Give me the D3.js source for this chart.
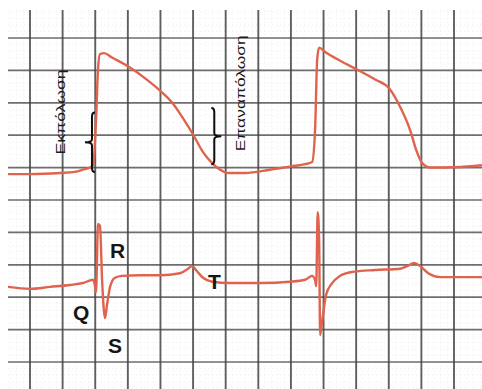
<!DOCTYPE html>
<html>
<head>
<meta charset="utf-8">
<script src="https://cdn.jsdelivr.net/npm/d3@7"></script>
<style>
  html, body { margin: 0; padding: 0; background: #ffffff; }
  svg { display: block; }
</style>
</head>
<body>
<svg id="chart" width="482" height="389"></svg>
<script>
// ---------- data ----------
// time in ms (one major grid box = 200 ms)
const gridTimes = d3.range(0, 2601, 200);
const minorTimes = d3.range(-120, 2800, 40);
const gridRows = d3.range(0, 11, 1);
const minorRows = d3.range(-0.8, 10.9, 0.2);

// action potential (top trace) : time ms, membrane potential mV
const apTime = [-135, 0, 184, 276, 325, 368, 387, 405, 417, 429, 454, 503, 601, 706, 804, 871, 933, 1000, 1061, 1117, 1166, 1215, 1319, 1472, 1601, 1687, 1730, 1748, 1761, 1773, 1810, 1902, 2006, 2117, 2202, 2270, 2331, 2368, 2405, 2454, 2546, 2773];
const apValue = [-91, -91, -90, -89, -87, -85, -83, -42, 4, 18, 19, 15, 7, -4, -16, -26, -39, -55, -71, -81, -87, -90, -90, -87, -84, -82, -80, -51, 13, 24, 20, 12, 4, -5, -13, -30, -51, -69, -81, -85, -85, -83];

// surface ECG (bottom trace) : time ms, mV
const ecgTime = [-135, 0, 123, 245, 325, 387, 399, 405, 417, 429, 442, 460, 472, 491, 521, 564, 675, 798, 920, 969, 994, 1024, 1061, 1117, 1227, 1411, 1595, 1687, 1730, 1748, 1755, 1764, 1773, 1779, 1792, 1816, 1847, 1902, 1975, 2117, 2270, 2313, 2356, 2393, 2442, 2515, 2773];
const ecgValue = [-0.06, -0.09, -0.06, -0.03, 0, 0.05, -0.05, -0.14, 0.91, 0.88, 0.05, -0.54, -0.34, -0.06, 0.08, 0.11, 0.12, 0.12, 0.15, 0.22, 0.26, 0.18, 0.08, 0.02, 0, 0, 0.02, 0.05, 0.11, 0.05, -0.05, 1.09, 0.66, -0.8, -0.57, -0.18, -0.02, 0.11, 0.17, 0.2, 0.22, 0.26, 0.31, 0.26, 0.15, 0.09, 0.09];

// wave labels (anchored in ECG units)
const waveLabels = ["R", "Q", "S", "T"];
const waveLabelTime = [491, 264, 478, 1092];
const waveLabelValue = [0.38, -0.57, -1.08, -0.09];

// phase labels (anchored in action-potential units)
const phaseLabels = ["Εκπόλωση", "Επαναπόλωση"];
const phaseLabelTime = [215, 1319];
const phaseLabelValue = [-34.5, -17.5];

// braces: time, from mV, to mV, direction
const braceTime = [380, 1130];
const braceFrom = [-35, -31];
const braceTo = [-89, -82];
const braceDir = [-1, 1];

// ---------- scales ----------
const svg = d3.select("#chart");
const x = d3.scaleLinear().domain([0, 2600]).range([30, 454]);
const yGrid = d3.scaleLinear().domain([0, 10]).range([38, 362]);
const yAP = d3.scaleLinear().domain([-90, 20]).range([173, 52]);
const yECG = d3.scaleLinear().domain([0, 1]).range([283, 218]);

const defs = svg.append("defs");
defs.append("filter").attr("id", "soft").append("feGaussianBlur").attr("stdDeviation", 0.55);

// ---------- grid ----------
const grid = svg.append("g").attr("filter", "url(#soft)");
grid.selectAll("line.minv").data(minorTimes).join("line")
  .attr("x1", d => x(d)).attr("x2", d => x(d))
  .attr("y1", 10).attr("y2", 389)
  .attr("stroke", "#cfcfcf").attr("stroke-width", 0.8)
  .attr("stroke-dasharray", "1,3").attr("opacity", 0.45);
grid.selectAll("line.minh").data(minorRows).join("line")
  .attr("x1", 8).attr("x2", 482)
  .attr("y1", d => yGrid(d)).attr("y2", d => yGrid(d))
  .attr("stroke", "#cfcfcf").attr("stroke-width", 0.8)
  .attr("stroke-dasharray", "1,3").attr("opacity", 0.45);
grid.selectAll("line.h").data(gridRows).join("line")
  .attr("x1", 8).attr("x2", 482)
  .attr("y1", d => yGrid(d)).attr("y2", d => yGrid(d))
  .attr("stroke", "#555").attr("stroke-width", 1.7).attr("opacity", 0.85);
grid.selectAll("line.v").data(gridTimes).join("line")
  .attr("x1", d => x(d)).attr("x2", d => x(d))
  .attr("y1", 10).attr("y2", 389)
  .attr("stroke", "#444").attr("stroke-width", 1.9).attr("opacity", 0.85);

// ---------- traces ----------
const traces = svg.append("g").attr("filter", "url(#soft)");
const apPts = apTime.map((t, i) => [t, apValue[i]]);
const ecgPts = ecgTime.map((t, i) => [t, ecgValue[i]]);

traces.append("path")
  .attr("d", d3.line().x(d => x(d[0])).y(d => yAP(d[1])).curve(d3.curveMonotoneX)(apPts))
  .attr("fill", "none").attr("stroke", "#e0634d").attr("stroke-width", 2.4)
  .attr("stroke-linejoin", "round");
traces.append("path")
  .attr("d", d3.line().x(d => x(d[0])).y(d => yECG(d[1])).curve(d3.curveMonotoneX)(ecgPts))
  .attr("fill", "none").attr("stroke", "#e0634d").attr("stroke-width", 2.4)
  .attr("stroke-linejoin", "round");

// ---------- braces ----------
const ann = svg.append("g").attr("filter", "url(#soft)");
braceTime.forEach((t, i) => {
  const bx = x(t), y0 = yAP(braceFrom[i]), y1 = yAP(braceTo[i]);
  const ym = (y0 + y1) / 2, dir = braceDir[i], w = 3, c = 7;
  const p = d3.path();
  p.moveTo(bx - dir * w, y0);
  p.quadraticCurveTo(bx, y0, bx, y0 + 4);
  p.lineTo(bx, ym - 3);
  p.quadraticCurveTo(bx, ym, bx + dir * c, ym);
  p.quadraticCurveTo(bx, ym, bx, ym + 3);
  p.lineTo(bx, y1 - 4);
  p.quadraticCurveTo(bx, y1, bx - dir * w, y1);
  ann.append("path").attr("d", p.toString())
    .attr("fill", "none").attr("stroke", "#111").attr("stroke-width", 2);
});

// ---------- labels ----------
svg.selectAll("text.wave").data(waveLabels).join("text")
  .attr("class", "wave")
  .attr("x", (d, i) => x(waveLabelTime[i]))
  .attr("y", (d, i) => yECG(waveLabelValue[i]))
  .attr("font-family", "Liberation Sans, Arial, sans-serif")
  .attr("font-weight", "bold").attr("font-size", 21)
  .attr("fill", "#151515")
  .text(d => d);

const phaseLen = [85, 116];
svg.selectAll("text.phase").data(phaseLabels).join("text")
  .attr("class", "phase")
  .attr("transform", (d, i) => `translate(${x(phaseLabelTime[i])},${yAP(phaseLabelValue[i])}) rotate(-90)`)
  .attr("text-anchor", "middle")
  .attr("font-family", "Liberation Sans, Arial, sans-serif")
  .attr("font-size", 12)
  .attr("textLength", (d, i) => phaseLen[i])
  .attr("lengthAdjust", "spacingAndGlyphs")
  .attr("fill", "#1a1a1a")
  .text(d => d);
</script>
</body>
</html>
